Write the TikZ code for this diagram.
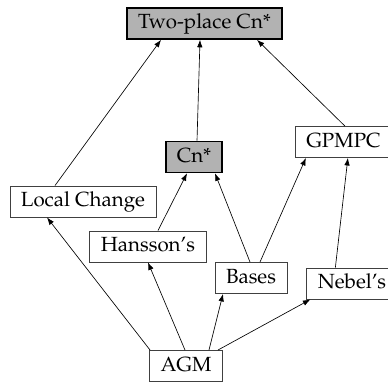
\documentclass[tikz,border=0pt]{standalone}
\usepackage[T1]{fontenc}
\usepackage{mathpazo}
\usetikzlibrary{arrows.meta}
\begin{document}
\begin{tikzpicture}[
        x=1pt, y=-1pt,
        every node/.style={font=\fontsize{20.5}{24}\selectfont},
        theory/.style={rectangle, draw=black!75, fill=white, line width=0.9pt, inner xsep=11pt, text height=14.5pt, text depth=4.5pt, inner ysep=6pt},
        target/.style={theory, draw=black, fill=black!30, line width=1.6pt},
        link/.style={black, line width=0.65pt, -{Latex[length=7.5pt,width=5.5pt]}}
    ]
        \useasboundingbox (0,0) rectangle (388,383);

        % Oberste Ebene
        \node[target] (two) at (204.5,23.5) {Two-place Cn*};

        % Mittlere Ebene
        \node[target] (cn) at (194,157) {Cn*};
        \node[theory] (gpmpc) at (343.5,142) {GPMPC};
        \node[theory] (lc) at (83,201.5) {Local Change};
        \node[theory] (hans) at (148,246.5) {Hansson's};
        \node[theory] (bases) at (251,278) {Bases};
        \node[theory] (nebel) at (352,283.5) {Nebel's};

        % Ausgangspunkt
        \node[theory] (agm) at (186,366) {AGM};

        % Kanten von AGM aus
        \draw[link] ([xshift=1pt]agm.north west) -- ([xshift=-36pt]lc.south);
        \draw[link] ([xshift=-1pt]agm.north) -- (hans.south);
        \draw[link] ([xshift=23pt]agm.north) -- ([xshift=-28pt]bases.south);
        \draw[link] ([xshift=-5pt]agm.north east) -- ([xshift=4pt]nebel.south west);

        % Mittlere Kanten
        \draw[link] ([xshift=10pt]hans.north) -- ([xshift=-7pt]cn.south);
        \draw[link] ([xshift=-1pt]bases.north) -- ([xshift=21pt]cn.south);
        \draw[link] ([xshift=9pt]bases.north) -- ([xshift=11pt]gpmpc.south west);
        \draw[link] ([xshift=29pt]nebel.north west) -- ([xshift=53pt]gpmpc.south west);

        % Kanten nach oben
        \draw[link] ([xshift=-28pt]lc.north) -- ([xshift=-43.5pt]two.south);
        \draw[link] ([xshift=3pt]cn.north) -- ([xshift=-4.5pt]two.south);
        \draw[link] ([xshift=50pt]gpmpc.north west) -- ([xshift=52.5pt]two.south);
    \end{tikzpicture}
\end{document}
